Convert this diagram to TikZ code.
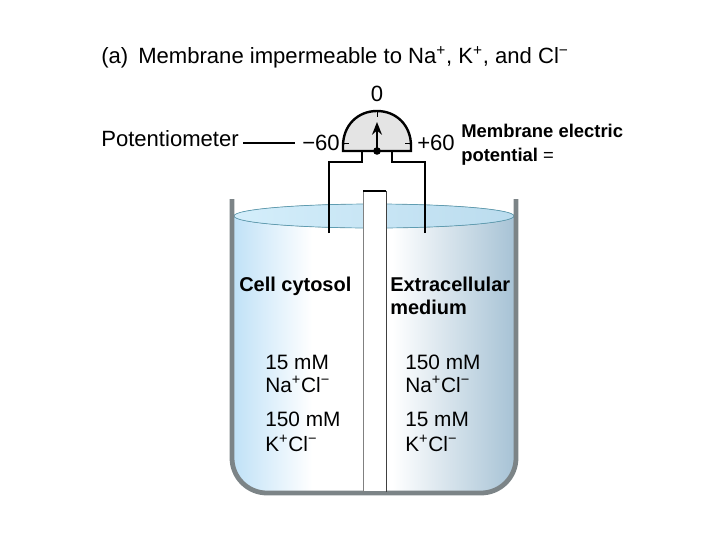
\documentclass[tikz,border=0pt]{standalone}
\usepackage{fontspec}
\setmainfont{Liberation Sans}
\usetikzlibrary{arrows.meta}
\definecolor{wallgray}{HTML}{7C8487}
\definecolor{dialgray}{HTML}{E4E4E4}
\definecolor{coldblue}{HTML}{BFE1F7}
\definecolor{warmblue}{HTML}{A6C2D5}
\definecolor{rimblue}{HTML}{5E9DB2}
\definecolor{topblue}{HTML}{D4EEFB}
\definecolor{topblueb}{HTML}{BBDCEE}
\newcommand{\Pos}{\textsuperscript{+}}
\newcommand{\Neg}{\textsuperscript{−}}
\tikzset{
	title text/.style={anchor=base west,inner sep=0pt,font=\fontsize{15.7}{18}\selectfont},
	label text/.style={anchor=base west,inner sep=0pt,font=\fontsize{14.8}{18}\selectfont},
	bold text/.style={anchor=base west,inner sep=0pt,font=\fontsize{14.2}{18}\selectfont\bfseries},
	side text/.style={anchor=base west,inner sep=0pt,font=\fontsize{13.1}{18}\selectfont\bfseries},
	wire/.style={line width=1.7pt,line cap=butt,line join=miter}
}
\begin{document}
\begin{tikzpicture}[x=0.025cm,y=-0.025cm,line join=round,>={Stealth[length=9pt,width=7pt]}]
	\useasboundingbox (0,0) rectangle (720,540);
	\path
	(232,199) coordinate (WL)
	(516,199) coordinate (WR)
	(363,191) coordinate (ML)
	(386,191) coordinate (MR)
	(377,151) coordinate (P)
	(329,233) coordinate (EL)
	(425,233) coordinate (ER)
	(243,143) coordinate (LS)
	(295,143) coordinate (LE)
	;
	% bath
	\begin{scope}
		\clip (232,216) -- (232,458) arc (180:90:35) -- (481,493) arc (90:0:35) -- (516,216) -- cycle;
		\fill[left color=coldblue,right color=white] (232,200) rectangle (312,495);
		\fill[left color=white,right color=warmblue] (392,200) rectangle (516,495);
	\end{scope}
	\fill[left color=topblue,right color=topblueb,draw=rimblue,line width=0.5pt] (374,216) ellipse (140 and 12);
	% beaker
	\draw[wallgray,line width=3.4pt] (WL) -- (232,458) arc (180:90:35) -- (481,493) arc (90:0:35) -- (WR);
	% membrane
	\fill[white] (363,491) rectangle (MR);
	\draw[gray,line width=0.7pt] (363,492) -- (ML);
	\draw[black!75,line width=0.7pt] (386,492) -- (MR);
	\draw[line width=1pt] (ML) -- (MR);
	% meter
	\draw[wire] (EL) -- (329,162) -- (362,162) -- (362,151);
	\draw[wire] (ER) -- (425,162) -- (392,162) -- (392,151);
	\draw[fill=dialgray,wire] (343,151) -- (343,146) .. controls (343,125) and (358,111) .. (377,111) .. controls (396,111) and (411,125) .. (411,146) -- (411,151) -- cycle;
	\foreach \a/\b in {343/349,411/405}
	\draw[line width=0.6pt] (\a,143) -- (\b,143);
	\draw[line width=0.6pt] (377,111) -- (377,117);
	\draw[->,line width=1.7pt] (P) -- (377,122);
	\fill (P) circle (3.8);
	\draw[line width=1.3pt] (LS) -- (LE);
	% labels
	\path
	(101,63) node[title text] (title) {(a)}
	(138,63) node[title text] (head) {Membrane impermeable to Na\Pos, K\Pos, and Cl\Neg}
	(101,146) node[title text] (meter) {Potentiometer}
	(377,101) node[title text,anchor=base] (zero) {0}
	(340,150) node[title text,anchor=base east] (minus) {−60}
	(417,150) node[title text] (plus) {+60}
	(461,137) node[side text] (mem1) {Membrane electric}
	(461,161) node[side text] (mem2) {potential \textmd{=}}
	(239,291) node[bold text] (cyto) {Cell cytosol}
	(390,291) node[bold text] (extra1) {Extracellular}
	(390,314) node[bold text] (extra2) {medium}
	;
	\foreach \x/\u/\v/\n in {265/15/150/l,405/150/15/r}
	\path
	(\x,369) node[label text] (na\n) {\u\ mM}
	(\x,392) node[label text] (nacl\n) {Na\Pos Cl\Neg}
	(\x,426) node[label text] (k\n) {\v\ mM}
	(\x,451) node[label text] (kcl\n) {K\Pos Cl\Neg}
	;
\end{tikzpicture}
\end{document}
